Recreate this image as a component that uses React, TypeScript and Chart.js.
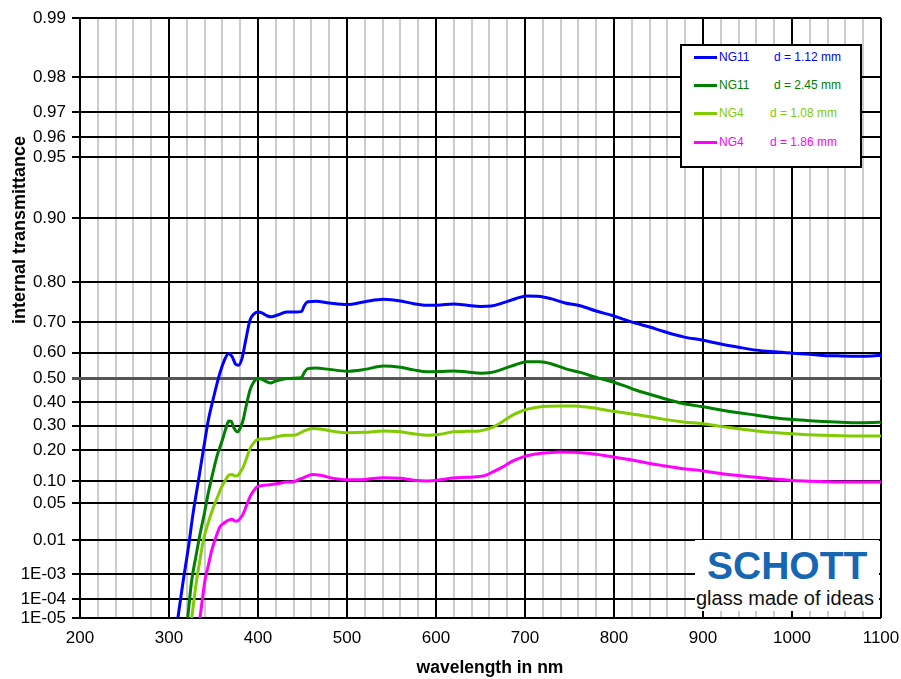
import React, { useEffect, useRef } from "react";
import { Chart, registerables } from "chart.js";

Chart.register(...registerables);

// ---- Data (wavelength in nm, internal transmittance) ----
const NG11_112_WL = [310, 316, 322, 327, 333, 339, 344, 350, 357, 362, 367, 371, 375, 378, 382, 386, 391, 396, 400, 405, 410, 415, 422, 432, 442, 449, 452, 456, 465, 480, 500, 520, 541, 560, 575, 590, 605, 620, 635, 650, 662, 675, 690, 702, 717, 730, 745, 762, 780, 799, 812, 825, 840, 855, 878, 900, 920, 940, 960, 980, 1001, 1020, 1035, 1055, 1076, 1090, 1100];
const NG11_112_T = [0.00001, 0.0006, 0.007, 0.034, 0.10, 0.21, 0.32, 0.42, 0.52, 0.57, 0.597, 0.585, 0.556, 0.553, 0.578, 0.64, 0.705, 0.724, 0.728, 0.725, 0.718, 0.715, 0.72, 0.728, 0.728, 0.73, 0.745, 0.755, 0.756, 0.752, 0.748, 0.755, 0.761, 0.757, 0.75, 0.746, 0.747, 0.749, 0.746, 0.743, 0.744, 0.752, 0.763, 0.769, 0.768, 0.762, 0.752, 0.745, 0.731, 0.718, 0.707, 0.696, 0.685, 0.672, 0.654, 0.643, 0.63, 0.619, 0.609, 0.603, 0.598, 0.594, 0.59, 0.588, 0.587, 0.588, 0.59];

const NG11_245_WL = [321, 325.5, 330, 335, 340, 344, 349, 354, 358, 361, 364, 367, 370, 373, 377, 380, 383, 387, 391, 395, 399, 404, 410, 414, 420, 432, 442, 449, 452, 456, 465, 480, 500, 520, 541, 560, 575, 590, 605, 620, 635, 650, 662, 675, 690, 702, 717, 730, 745, 762, 780, 799, 812, 825, 840, 855, 878, 900, 920, 940, 960, 980, 1001, 1020, 1035, 1055, 1076, 1090, 1100];
const NG11_245_T = [0.00001, 0.0006, 0.0035, 0.014, 0.036, 0.069, 0.12, 0.18, 0.22, 0.253, 0.29, 0.32, 0.318, 0.29, 0.274, 0.29, 0.32, 0.39, 0.452, 0.485, 0.5, 0.498, 0.487, 0.482, 0.49, 0.5, 0.502, 0.505, 0.525, 0.54, 0.542, 0.537, 0.53, 0.537, 0.55, 0.545, 0.535, 0.528, 0.529, 0.531, 0.527, 0.522, 0.525, 0.538, 0.556, 0.566, 0.566, 0.558, 0.54, 0.525, 0.505, 0.486, 0.47, 0.452, 0.435, 0.418, 0.395, 0.381, 0.367, 0.355, 0.345, 0.334, 0.326, 0.321, 0.318, 0.315, 0.312, 0.313, 0.315];

const NG4_108_WL = [325.5, 331, 335, 338.6, 344, 350, 355, 359, 363, 367, 371, 374, 377, 380, 383.5, 387, 391, 395, 399, 405, 413, 422, 432, 440, 446, 452, 461, 470, 485, 500, 520, 541, 560, 575, 590, 605, 619, 635, 649, 657, 664, 675, 686, 698, 709, 725, 739, 755, 773, 799, 820, 837, 855, 878, 900, 920, 940, 960, 980, 1001, 1020, 1035, 1055, 1076, 1100];
const NG4_108_T = [0.00001, 0.0006, 0.0032, 0.0098, 0.023, 0.044, 0.064, 0.084, 0.1, 0.116, 0.118, 0.114, 0.115, 0.125, 0.142, 0.17, 0.207, 0.228, 0.242, 0.245, 0.247, 0.255, 0.26, 0.26, 0.267, 0.278, 0.288, 0.286, 0.276, 0.27, 0.272, 0.278, 0.274, 0.266, 0.26, 0.264, 0.274, 0.276, 0.278, 0.285, 0.294, 0.318, 0.345, 0.365, 0.376, 0.383, 0.385, 0.385, 0.378, 0.362, 0.35, 0.34, 0.328, 0.316, 0.308, 0.297, 0.287, 0.278, 0.271, 0.266, 0.262, 0.26, 0.258, 0.257, 0.257];

const NG4_186_WL = [334.8, 340.4, 344, 348, 353, 357, 362, 367, 371, 374, 377, 380, 383.5, 387, 391, 395, 399, 405, 413, 422, 432, 440, 446, 452, 461, 470, 485, 500, 520, 541, 560, 575, 590, 605, 619, 635, 649, 657, 664, 675, 686, 698, 709, 725, 739, 755, 773, 799, 820, 837, 855, 878, 900, 920, 940, 960, 980, 1001, 1020, 1035, 1055, 1076, 1100];
const NG4_186_T = [0.00001, 0.0006, 0.0019, 0.0055, 0.012, 0.019, 0.023, 0.026, 0.027, 0.025, 0.025, 0.028, 0.034, 0.046, 0.062, 0.075, 0.085, 0.088, 0.09, 0.093, 0.097, 0.098, 0.104, 0.11, 0.118, 0.116, 0.107, 0.103, 0.104, 0.109, 0.107, 0.102, 0.1, 0.103, 0.108, 0.11, 0.112, 0.117, 0.126, 0.142, 0.161, 0.176, 0.185, 0.191, 0.194, 0.193, 0.188, 0.176, 0.165, 0.155, 0.146, 0.136, 0.129, 0.121, 0.115, 0.11, 0.105, 0.101, 0.099, 0.098, 0.097, 0.097, 0.097];

const SERIES_NAMES = ["NG11", "NG11", "NG4", "NG4"];
const SERIES_THICKNESS = ["d = 1.12 mm", "d = 2.45 mm", "d = 1.08 mm", "d = 1.86 mm"];
const SERIES_COLORS = ["#0000ff", "#008000", "#80cc00", "#ff00ff"];

const Y_TICK_VALUES = [0.99, 0.98, 0.97, 0.96, 0.95, 0.9, 0.8, 0.7, 0.6, 0.5, 0.4, 0.3, 0.2, 0.1, 0.05, 0.01, 0.001, 0.0001, 0.00001];
const Y_TICK_LABELS = ["0.99", "0.98", "0.97", "0.96", "0.95", "0.90", "0.80", "0.70", "0.60", "0.50", "0.40", "0.30", "0.20", "0.10", "0.05", "0.01", "1E-03", "1E-04", "1E-05"];

const X_MIN = 200;
const X_MAX = 1100;

// SCHOTT diagram scale: -log10(-ln(tau))
const tf = (t: number) => -Math.log10(-Math.log(t));

const FONT = 'Arial, "Liberation Sans", sans-serif';

export default function App() {
  const canvasRef = useRef<HTMLCanvasElement | null>(null);

  useEffect(() => {
    const canvas = canvasRef.current;
    if (!canvas) return;
    Chart.defaults.font.family = FONT;

    const wl = [NG11_112_WL, NG11_245_WL, NG4_108_WL, NG4_186_WL];
    const tv = [NG11_112_T, NG11_245_T, NG4_108_T, NG4_186_T];
    const datasets = wl.map((xs, i) => ({
      label: SERIES_NAMES[i] + " " + SERIES_THICKNESS[i],
      data: xs.map((x, j) => ({ x, y: tf(tv[i][j]) })),
      borderColor: SERIES_COLORS[i],
      backgroundColor: SERIES_COLORS[i],
      borderWidth: 3,
      pointRadius: 0,
      tension: 0.4,
      cubicInterpolationMode: "monotone" as const,
      fill: false,
    }));

    const chart = new Chart(canvas, {
      type: "line",
      data: { datasets },
      options: {
        responsive: false,
        animation: false,
        events: [],
        layout: { padding: { top: 18, right: 20, left: 0, bottom: 0 } },
        plugins: { legend: { display: false }, tooltip: { enabled: false } },
        scales: {
          x: {
            type: "linear",
            min: X_MIN,
            max: X_MAX,
            afterFit: (s: any) => {
              s.height = 61;
              s.paddingLeft = 0;
              s.paddingRight = 0;
            },
            ticks: {
              stepSize: 20,
              autoSkip: false,
              maxRotation: 0,
              padding: 10,
              color: "#000",
              font: { size: 17, family: FONT },
              callback: (v: any) => (Number(v) % 100 === 0 ? String(v) : ""),
            },
            grid: {
              drawTicks: false,
              color: (ctx: any) => (ctx.tick && Math.round(ctx.tick.value) % 100 === 0 ? "#000" : "#cccccc"),
              lineWidth: 2,
            },
            border: { display: false },
          },
          y: {
            type: "linear",
            min: tf(0.00001),
            max: tf(0.99),
            afterFit: (s: any) => {
              s.width = 80;
              s.paddingTop = 0;
              s.paddingBottom = 0;
            },
            afterBuildTicks: (s: any) => {
              s.ticks = Y_TICK_VALUES.map((v) => ({ value: tf(v) }));
            },
            ticks: {
              autoSkip: false,
              padding: 6,
              color: "#000",
              font: { size: 17, family: FONT },
              callback: (_v: any, i: number) => Y_TICK_LABELS[i],
            },
            grid: {
              tickLength: 8,
              color: (ctx: any) => (ctx.index === 9 ? "#555555" : "#000"),
              lineWidth: (ctx: any) => (ctx.index === 9 ? 3 : 2),
            },
            border: { display: false },
          },
        },
      },
    });
    return () => chart.destroy();
  }, []);

  const rowY = [11, 39, 67, 96];
  const dX = [92, 92, 88, 88];

  return (
    <div style={{ position: "absolute", left: 0, top: 0, width: 901, height: 679, background: "#fff", fontFamily: FONT, overflow: "hidden" }}>
      <canvas ref={canvasRef} width={901} height={679} style={{ position: "absolute", left: 0, top: 0, width: 901, height: 679 }} />
      {/* Legend */}
      <div style={{ position: "absolute", left: 680, top: 44, width: 182, height: 124, border: "2px solid #000", background: "#fff", boxSizing: "border-box" }}>
        {SERIES_NAMES.map((n, i) => (
          <React.Fragment key={i}>
            <div style={{ position: "absolute", left: 12, top: rowY[i] - 1.5, width: 23, height: 3, background: SERIES_COLORS[i] }} />
            <div style={{ position: "absolute", left: 37, top: rowY[i] - 7, lineHeight: "14px", fontSize: 12, color: SERIES_COLORS[i], whiteSpace: "nowrap" }}>{n}</div>
            <div style={{ position: "absolute", left: dX[i], top: rowY[i] - 7, lineHeight: "14px", fontSize: 12, color: SERIES_COLORS[i], whiteSpace: "nowrap" }}>{SERIES_THICKNESS[i]}</div>
          </React.Fragment>
        ))}
      </div>
      {/* Logo */}
      <div style={{ position: "absolute", left: 695, top: 540, width: 184, height: 71, background: "#fff" }} />
      <div style={{ position: "absolute", left: 707, top: 546, fontSize: 39, lineHeight: 1, fontWeight: "bold", color: "#1766b1", whiteSpace: "nowrap" }}>SCHOTT</div>
      <div style={{ position: "absolute", left: 696, top: 588, fontSize: 20, lineHeight: 1, color: "#111", whiteSpace: "nowrap" }}>glass made of ideas</div>
      {/* Axis titles */}
      <div style={{ position: "absolute", left: 340, top: 659, width: 300, textAlign: "center", fontSize: 17.5, lineHeight: 1, fontWeight: "bold", color: "#000", whiteSpace: "nowrap" }}>wavelength in nm</div>
      <div style={{ position: "absolute", left: 19.3 - 150, top: 230 - 9, width: 300, height: 18, textAlign: "center", fontSize: 18, lineHeight: "18px", fontWeight: "bold", color: "#000", whiteSpace: "nowrap", transform: "rotate(-90deg)" }}>internal transmittance</div>
    </div>
  );
}
